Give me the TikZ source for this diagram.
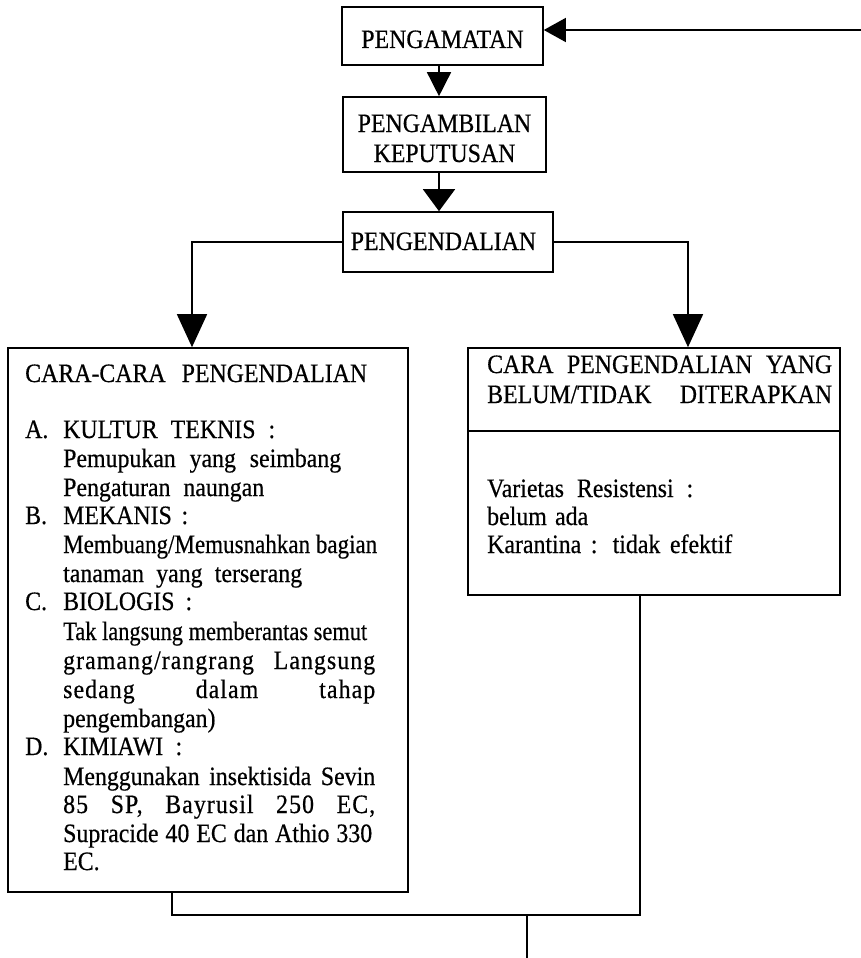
\documentclass[tikz,border=0pt]{standalone}
\usepackage{fontspec}
\usepackage{graphicx}
\setmainfont{Liberation Serif}[FakeStretch=0.9,FakeBold=0.5]
\usetikzlibrary{arrows.meta}
\newsavebox{\jlbox}
\newcommand{\jl}[2]{\sbox{\jlbox}{#2}\ifdim\wd\jlbox>#1pt\resizebox{#1pt}{\height}{#2}\else\makebox[#1pt][s]{#2}\fi}
\newcommand{\lsp}{\addfontfeature{LetterSpace=4}}
\begin{document}
\begin{tikzpicture}[x=1pt,y=-1pt,
  box/.style={draw,line width=1.6pt,inner sep=0pt},
  txt/.style={inner sep=0pt,anchor=base west},
  link/.style={line width=1.5pt},
  bigtip/.style={-{Triangle[length=33pt,width=30pt]}},
  font=\fontsize{26.5}{30}\selectfont]
\useasboundingbox (0,0) rectangle (861,958);

% top boxes
\node[box,minimum width=201pt,minimum height=58pt,text height=24pt,text depth=0pt] (obs) at (442.5,36) {PENGAMATAN};
\node[box,minimum width=203pt,minimum height=75pt,align=center,text height=55pt,text depth=0pt] (dec) at (444.5,134.5) {PENGAMBILAN\\KEPUTUSAN};
\node[box,minimum width=210pt,minimum height=60pt,text height=16pt,text depth=0pt] (ctrl) at (448,242) {PENGENDALIAN\hspace*{9pt}};

% big boxes
\node[box,minimum width=400pt,minimum height=544pt] (cara) at (208,620) {};
\node[box,minimum width=372pt,minimum height=247pt] (belum) at (654,471.5) {};
\coordinate (dv) at (0,431);
\draw[link] (belum.west |- dv) -- (belum.east |- dv);

% left box text
\node[txt] (l1) at (25,382) {\jl{342}{CARA-CARA PENGENDALIAN}};
\node[txt] (la) at (25,438) {A.};
\node[txt] (l2) at (63,438) {\jl{212}{KULTUR TEKNIS :}};
\node[txt] (l3) at (63,467) {\jl{278}{Pemupukan yang seimbang}};
\node[txt] (l4) at (63,496) {\jl{201}{Pengaturan naungan}};
\node[txt] (lb) at (25,524) {B.};
\node[txt] (l5) at (63,524) {\jl{125}{MEKANIS :}};
\node[txt] (l6) at (63,553) {\jl{314}{Membuang/Memusnahkan bagian}};
\node[txt] (l7) at (63,582) {\jl{239}{tanaman yang terserang}};
\node[txt] (lc) at (25,610) {C.};
\node[txt] (l8) at (63,610) {\jl{129}{BIOLOGIS :}};
\node[txt] (l9) at (63,640) {\jl{304}{Tak langsung memberantas semut}};
\node[txt] (l10) at (63,669) {\lsp\jl{312}{gramang/rangrang Langsung}};
\node[txt] (l11) at (63,698) {\lsp\jl{312}{sedang dalam tahap}};
\node[txt] (l12) at (63,727) {pengembangan)};
\node[txt] (ld) at (25,755) {D.};
\node[txt] (l13) at (63,755) {\jl{119}{KIMIAWI :}};
\node[txt] (l14) at (63,785) {\jl{312}{Menggunakan insektisida Sevin}};
\node[txt] (l15) at (63,813) {\lsp\jl{312}{85 SP, Bayrusil 250 EC,}};
\node[txt] (l16) at (63,842) {\jl{309}{Supracide 40 EC dan Athio 330}};
\node[txt] (l17) at (63,870) {EC.};

% right box text
\node[txt] (r1) at (487,373) {\jl{345}{CARA PENGENDALIAN YANG}};
\node[txt] (r2) at (487,403) {\jl{345}{BELUM/TIDAK DITERAPKAN}};
\node[txt] (r3) at (487,497) {\jl{206}{Varietas Resistensi :}};
\node[txt] (r4) at (487,525) {\jl{101}{belum ada}};
\node[txt] (r5) at (487,553) {\jl{245}{Karantina : tidak efektif}};

% connectors
\coordinate (ax) at (439,0);
\draw[link,-{Triangle[length=24pt,width=24pt]}] (obs.south -| ax) -- (dec.north -| ax);
\draw[link,-{Triangle[length=22pt,width=32pt]}] (dec.south -| ax) -- (ctrl.north -| ax);
\coordinate (lx) at (192,0);
\coordinate (rx) at (688,0);
\draw[link,bigtip] (ctrl.west) -| (cara.north -| lx);
\draw[link,bigtip] (ctrl.east) -| (belum.north -| rx);
\coordinate (loop) at (861,30);
\draw[link,-{Triangle[length=22pt,width=24pt]}] (loop) -- (obs.east |- loop);
\coordinate (j) at (527,915);
\coordinate (lbx) at (172,0);
\coordinate (rbx) at (640,0);
\coordinate (out) at (527,958);
\draw[link] (cara.south -| lbx) |- (j) -| (belum.south -| rbx);
\draw[link] (j) -- (out);
\end{tikzpicture}
\end{document}
